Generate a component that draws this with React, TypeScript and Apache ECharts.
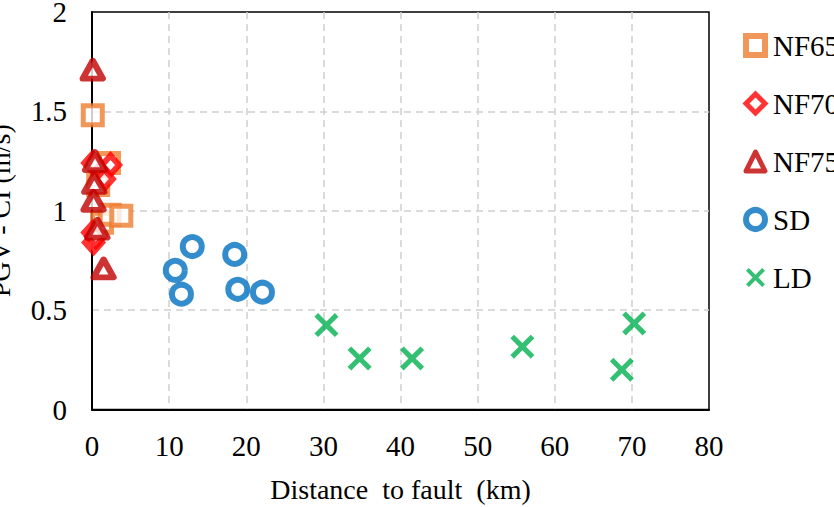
import React, { useEffect, useRef } from "react";
import * as echarts from "echarts";

const seriesNames = ["NF65", "NF70", "NF75", "SD", "LD"];

const nf65: number[][] = [
  [0.1, 1.48], [2.2, 1.24], [0.8, 1.13], [1.3, 0.94], [2.3, 0.98], [3.8, 0.975],
];
const nf70: number[][] = [
  [0.1, 1.24], [2.4, 1.23], [1.6, 1.16], [0.1, 0.89], [0.2, 0.84], [0.5, 0.87],
];
const nf75: number[][] = [
  [0.1, 1.71], [0.4, 1.25], [0.3, 1.14], [0.2, 1.05], [0.7, 0.91], [1.5, 0.71],
];
const sd: number[][] = [
  [13.0, 0.82], [10.8, 0.7], [11.6, 0.58], [18.5, 0.78], [18.9, 0.605], [22.1, 0.59],
];
const ld: number[][] = [
  [30.4, 0.425], [34.7, 0.257], [41.5, 0.257], [55.8, 0.316], [70.3, 0.433], [68.7, 0.2],
];

const xTicks = [0, 10, 20, 30, 40, 50, 60, 70, 80];
const yTicks = [0, 0.5, 1, 1.5, 2];

const FONT = "'Liberation Serif', 'Times New Roman', serif";
const X_PATH =
  "path://M1.5,0 L5,3.5 L8.5,0 L10,1.5 L6.5,5 L10,8.5 L8.5,10 L5,6.5 L1.5,10 L0,8.5 L3.5,5 L0,1.5 Z";

const colors = ["#ED7D31", "#FF0000", "#C00000", "#0070C0", "#00B050"];

export default function App() {
  const ref = useRef<HTMLDivElement>(null);
  useEffect(() => {
    if (!ref.current) return;
    const chart = echarts.init(ref.current, undefined, { renderer: "svg" });
    const gridLine = {
      show: true,
      showMinLine: false,
      showMaxLine: false,
      lineStyle: { color: "#d0d0d0", width: 1.5, type: [7, 5] as any },
    };
    chart.setOption({
      animation: false,
      backgroundColor: "#ffffff",
      grid: {
        left: 92, right: 125, top: 12, bottom: 97.5,
        outerBoundsMode: "none",
        containLabel: false,
        show: true, borderColor: "#000", borderWidth: 1.5, backgroundColor: "transparent",
      },
      legend: {
        orient: "vertical",
        left: 743,
        top: 31,
        padding: 0,
        itemWidth: 19,
        itemHeight: 19,
        itemGap: 29,
        textStyle: { fontFamily: FONT, fontSize: 29, color: "#000", padding: [0, 0, 0, 3] },
        data: [
          { name: seriesNames[0], icon: "rect", itemStyle: { color: "#fff", borderColor: colors[0], borderWidth: 6 } },
          { name: seriesNames[1], icon: "diamond", itemStyle: { color: "#fff", borderColor: colors[1], borderWidth: 5 } },
          { name: seriesNames[2], icon: "triangle", itemStyle: { color: "#fff", borderColor: colors[2], borderWidth: 5 } },
          { name: seriesNames[3], icon: "circle", itemStyle: { color: "#fff", borderColor: colors[3], borderWidth: 6 } },
          { name: seriesNames[4], icon: X_PATH, itemStyle: { color: colors[4], borderWidth: 0 } },
        ],
      },
      xAxis: {
        type: "value",
        min: xTicks[0],
        max: xTicks[xTicks.length - 1],
        interval: 10,
        name: "Distance  to fault  (km)",
        nameLocation: "middle",
        nameGap: 66,
        nameTextStyle: { fontFamily: FONT, fontSize: 28, color: "#000" },
        axisLine: { show: true, onZero: false, lineStyle: { color: "#000", width: 2 } },
        axisTick: { show: false },
        axisLabel: { fontFamily: FONT, fontSize: 29, color: "#000", margin: 22 },
        splitLine: gridLine,
      },
      yAxis: {
        type: "value",
        min: yTicks[0],
        max: yTicks[yTicks.length - 1],
        interval: 0.5,
        name: "PGV - CI (m/s)",
        nameLocation: "middle",
        nameGap: 78,
        nameTextStyle: { fontFamily: FONT, fontSize: 28, color: "#000" },
        axisLine: { show: true, onZero: false, lineStyle: { color: "#000", width: 2 } },
        axisTick: { show: false },
        axisLabel: { fontFamily: FONT, fontSize: 29, color: "#000", margin: 25 },
        splitLine: gridLine,
      },
      series: [
        {
          name: seriesNames[0], type: "scatter", data: nf65, symbol: "rect", symbolSize: 19,
          itemStyle: { color: "#ffffff", borderColor: colors[0], borderWidth: 5 },
        },
        {
          name: seriesNames[1], type: "scatter", data: nf70, symbol: "diamond", symbolSize: [17, 19],
          itemStyle: { color: "#ffffff", borderColor: colors[1], borderWidth: 6 },
        },
        {
          name: seriesNames[2], type: "scatter", data: nf75, symbol: "triangle", symbolSize: [20, 18],
          itemStyle: { color: "#ffffff", borderColor: colors[2], borderWidth: 6, borderJoin: "round" },
        },
        {
          name: seriesNames[3], type: "scatter", data: sd, symbol: "circle", symbolSize: 19,
          itemStyle: { color: "#ffffff", borderColor: colors[3], borderWidth: 6 },
        },
        {
          name: seriesNames[4], type: "scatter", data: ld, symbol: X_PATH, symbolSize: 24,
          itemStyle: { color: colors[4] },
        },
      ],
    });
    return () => chart.dispose();
  }, []);
  return (
    <div
      ref={ref}
      style={{ position: "fixed", left: 0, top: 0, width: 834, height: 507, background: "#fff" }}
    />
  );
}
